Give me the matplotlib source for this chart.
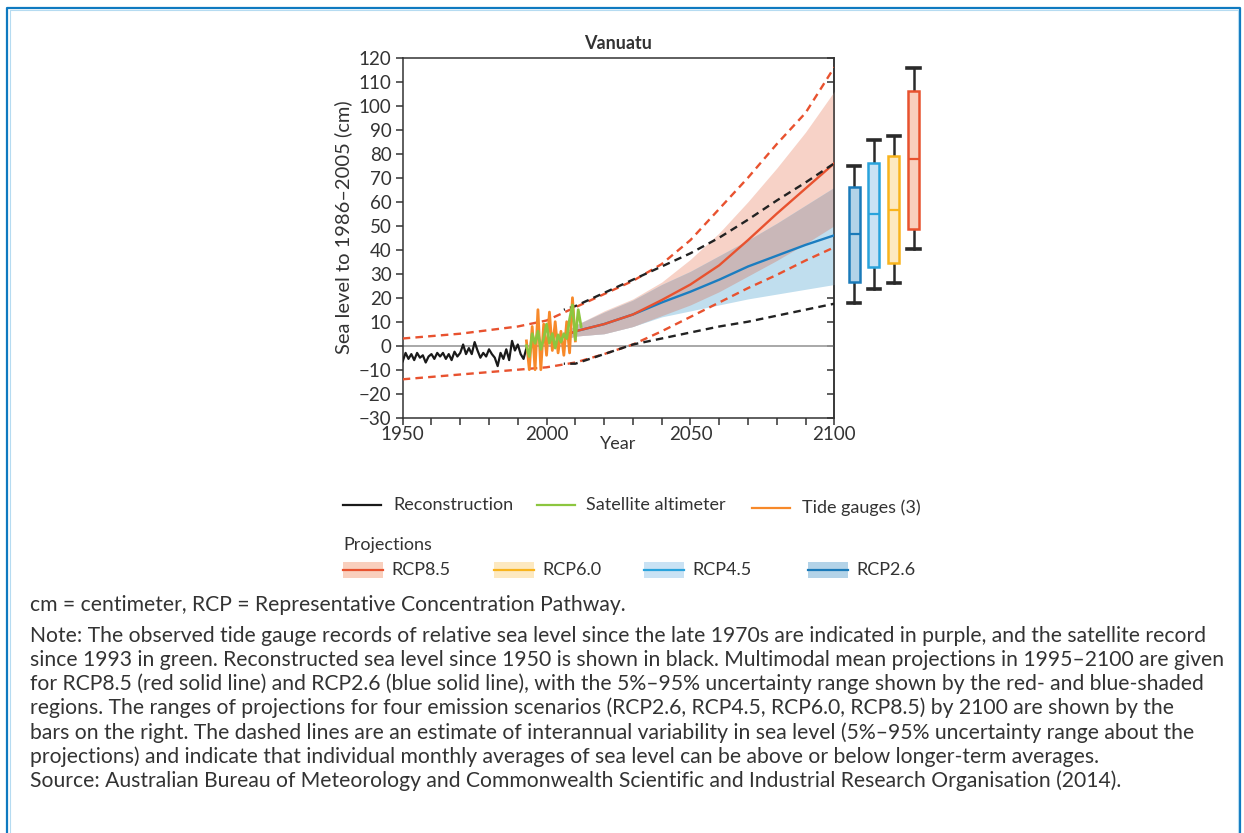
import numpy as np
import matplotlib
matplotlib.use('Agg')
import matplotlib.pyplot as plt
from matplotlib.lines import Line2D
from matplotlib.patches import Rectangle

plt.rcParams['font.family'] = ['Lato', 'DejaVu Sans']

# observed records
recon_years = list(range(1950, 1994))
recon = [-6.5, -3.0, -5.5, -3.5, -6.0, -3.0, -5.0, -4.0, -7.0, -4.5,
         -3.5, -5.5, -3.0, -4.5, -3.0, -5.5, -3.5, -6.0, -2.5, -4.5,
         -3.0, 0.5, -3.5, -1.0, -3.5, 1.5, -2.0, -5.0, -3.0, -4.5,
         -1.5, -3.5, -5.0, -8.5, -3.0, -5.5, -1.5, -6.0, 2.0, -2.0,
         0.5, -3.5, -5.5, -1.0]
tide_years = list(range(1993, 2011))
tide = [2, -10, 8, -10, 15, -10, 9, -4, 14, -2, 10, -3, 6, -4, 10, -3, 20, 2]
sat_years = list(range(1993, 2013))
sat = [0, -4.5, 5, 1, 6, -1.5, 3, 9, 1, 5, -1, 4.5, 1.5, 5, 3, 11, 17, 2.5, 15, 8]

# projections (multimodel mean and 5-95% range)
proj_years = [2006, 2010, 2020, 2030, 2040, 2050, 2060, 2070, 2080, 2090, 2100]
rcp85_mid = [4, 6, 9, 13, 19, 25.5, 33.5, 44, 55, 65.5, 76]
rcp85_lo = [2.5, 4, 5, 8, 12.5, 17, 22.5, 29, 35.5, 42.5, 50]
rcp85_hi = [5.5, 8.5, 14.5, 19.5, 26.5, 36, 47, 60, 74, 89, 106]
rcp26_mid = [4, 6, 9, 13, 18, 22.5, 27.5, 33, 37.5, 42, 46]
rcp26_lo = [2.5, 4, 5, 8, 12, 14.5, 17, 19.5, 21.5, 23.5, 25.5]
rcp26_hi = [5.5, 8.5, 14, 19, 25.5, 31, 37.5, 44, 51, 58.5, 66]

# interannual variability envelopes
var85_years = [1950, 1970, 1990, 2000, 2010, 2020, 2030, 2040, 2050, 2060, 2070, 2080, 2090, 2100]
var85_hi = [3, 5, 8, 10.5, 16, 21.5, 27, 34, 44, 57, 70, 84, 97, 116]
var85_lo = [-14, -12, -10, -9, -7, -3.5, 0.5, 6, 12, 18, 24, 29.5, 35.5, 41]
var26_years = [2006, 2010, 2020, 2030, 2040, 2050, 2060, 2070, 2080, 2090, 2100]
var26_hi = [15, 16.5, 22, 27.5, 33, 38.5, 45, 52.5, 60.5, 68, 76]
var26_lo = [-7.5, -7.5, -3.5, 0.5, 3, 5.5, 8, 10, 12.5, 15, 17.5]

# 2100 ranges, order RCP2.6, RCP4.5, RCP6.0, RCP8.5
box_names = ['RCP2.6', 'RCP4.5', 'RCP6.0', 'RCP8.5']
box_lo = [17.7, 23.8, 26.0, 40.2]
box_q1 = [26.4, 32.8, 34.6, 48.8]
box_med = [46.4, 54.7, 56.5, 77.8]
box_q3 = [66.3, 76.3, 78.9, 106.3]
box_hi = [75.0, 85.7, 87.4, 115.6]
box_face = ['#b3d3e8', '#c9e2f4', '#fde9c0', '#f9cfbd']
box_edge = ['#1a7ab9', '#29a3dc', '#f9b41d', '#e8522f']

RED = '#e8522f'
BLUE = '#1b7dc0'
TXT = '#333333'

W, H = 1244, 833
fig = plt.figure(figsize=(W / 100, H / 100), dpi=100)


def fx(x):
    return x / W


def fy(y):
    return 1 - y / H


ax = fig.add_axes([fx(402.7), fy(417.7), (834.3 - 402.7) / W, 360 / H])

p85_lo, p85_hi = np.array(rcp85_lo), np.array(rcp85_hi)
p26_lo, p26_hi = np.array(rcp26_lo), np.array(rcp26_hi)
ax.fill_between(proj_years, p85_lo, p85_hi, color='#f7d2c7', lw=0, zorder=1)
ax.fill_between(proj_years, p26_lo, p26_hi, color='#c0deee', lw=0, zorder=1)
ov_lo = np.maximum(p85_lo, p26_lo)
ov_hi = np.minimum(p85_hi, p26_hi)
ax.fill_between(proj_years, ov_lo, ov_hi, color='#c9b7b8', lw=0, zorder=1.5)

ax.axhline(0, color='#9a9a9a', lw=1.2, zorder=2)

ax.plot(proj_years, rcp26_mid, color=BLUE, lw=1.7, zorder=3)
ax.plot(proj_years, rcp85_mid, color=RED, lw=1.7, zorder=3.1)

dash = (0, (3.2, 2.2))
ax.plot(var85_years, var85_hi, color=RED, lw=1.7, ls=dash, zorder=4)
ax.plot(var85_years, var85_lo, color=RED, lw=1.7, ls=dash, zorder=4)
ax.plot(var26_years, var26_hi, color='#222222', lw=1.7, ls=(2.7, (3.2, 2.2)), zorder=4.1)
ax.plot(var26_years, var26_lo, color='#222222', lw=1.7, ls=(2.7, (3.2, 2.2)), zorder=4.1)

ax.plot(recon_years, recon, color='#1a1a1a', lw=1.6, zorder=5)
ax.plot(tide_years, tide, color='#f7892a', lw=2.0, zorder=5)
ax.plot(sat_years, sat, color='#8cc63f', lw=2.0, zorder=6)

ax.set_xlim(1950, 2100)
ax.set_ylim(-30, 120)
ax.set_xticks([1950, 2000, 2050, 2100])
ax.set_xticks(range(1950, 2101, 10), minor=True)
ax.set_yticks(range(-30, 121, 10))
ax.set_yticklabels([str(v).replace('-', '\u2212') for v in range(-30, 121, 10)])
ax.tick_params(axis='both', which='both', direction='out', length=5, width=1.1,
               color=TXT, labelcolor=TXT, labelsize=13.5, pad=1)
ax.tick_params(axis='y', pad=3)
for s in ax.spines.values():
    s.set_color(TXT)
    s.set_linewidth(1.1)
rax = ax.secondary_yaxis('right')
rax.set_yticks(range(-30, 121, 10))
rax.tick_params(direction='in', length=5, width=1.1, color=TXT, labelright=False)
rax.spines['right'].set_color(TXT)
rax.spines['right'].set_linewidth(1.1)

ax.set_xlabel('Year', fontsize=13, color=TXT, labelpad=-5)
ax.set_ylabel('Sea level to 1986\u20132005 (cm)', fontsize=14.5, color=TXT, labelpad=3)
ax.yaxis.set_label_coords(-0.116, 0.53)
ax.set_title('Vanuatu', fontsize=13, fontweight='bold', color=TXT, pad=6)

# bars on the right
bx = fig.add_axes([fx(834.3), fy(417.7), 99 / W, 360 / H])
bx.set_xlim(0, 5)
bx.set_ylim(-30, 120)
bx.axis('off')
stats = []
for i in range(4):
    stats.append({'med': box_med[i], 'q1': box_q1[i], 'q3': box_q3[i],
                  'whislo': box_lo[i], 'whishi': box_hi[i], 'fliers': []})
art = bx.bxp(stats, positions=[1, 2, 3, 4], widths=0.56, capwidths=0.62,
             patch_artist=True, showfliers=False)
for i in range(4):
    art['boxes'][i].set(facecolor=box_face[i], edgecolor=box_edge[i], linewidth=1.8, zorder=3)
    art['medians'][i].set(color=box_edge[i], linewidth=1.6, zorder=4)
for w in art['whiskers']:
    w.set(color='#2a2a2a', linewidth=1.8, zorder=2)
for c in art['caps']:
    c.set(color='#2a2a2a', linewidth=2.6, zorder=2)

# legend, drawn in figure pixels
row1 = 505
legend_lines = [(343, 381, '#1a1a1a', 'Reconstruction', 393, row1),
                (537, 575, '#8cc63f', 'Satellite altimeter', 586, row1),
                (752, 790, '#f7892a', 'Tide gauges (3)', 802, row1 + 3)]
for x0, x1, col, lab, tx, yy in legend_lines:
    fig.add_artist(Line2D([fx(x0), fx(x1)], [fy(yy), fy(yy)], color=col, lw=1.6,
                          transform=fig.transFigure))
    fig.text(fx(tx), fy(yy), lab, fontsize=13, color=TXT, va='center', ha='left')

fig.text(fx(343), fy(545), 'Projections', fontsize=13, color=TXT, va='center', ha='left')

row3 = 570
patch_x = [343, 494, 644, 808]
order = [3, 2, 1, 0]
for px, k in zip(patch_x, order):
    fig.add_artist(Rectangle((fx(px), fy(row3 + 8)), 40 / W, 16 / H, facecolor=box_face[k],
                             edgecolor='none', transform=fig.transFigure))
    fig.add_artist(Line2D([fx(px), fx(px + 40)], [fy(row3), fy(row3)], color=box_edge[k],
                          lw=1.6, transform=fig.transFigure))
    fig.text(fx(px + 48), fy(row3), box_names[k], fontsize=13, color=TXT, va='center', ha='left')

caption = [
    'cm = centimeter, RCP = Representative Concentration Pathway.',
    'Note: The observed tide gauge records of relative sea level since the late 1970s are indicated in purple, and the satellite record',
    'since 1993 in green. Reconstructed sea level since 1950 is shown in black. Multimodal mean projections in 1995\u20132100 are given',
    'for RCP8.5 (red solid line) and RCP2.6 (blue solid line), with the 5%\u201395% uncertainty range shown by the red- and blue-shaded',
    'regions. The ranges of projections for four emission scenarios (RCP2.6, RCP4.5, RCP6.0, RCP8.5) by 2100 are shown by the',
    'bars on the right. The dashed lines are an estimate of interannual variability in sea level (5%\u201395% uncertainty range about the',
    'projections) and indicate that individual monthly averages of sea level can be above or below longer-term averages.',
    'Source: Australian Bureau of Meteorology and Commonwealth Scientific and Industrial Research Organisation (2014).',
]
cap_y = [605, 636, 660, 684, 708, 733, 757, 781]
for line, yy in zip(caption, cap_y):
    fig.text(fx(30), fy(yy), line, fontsize=15.2, color=TXT, va='center', ha='left')

# frame
frame = '#0f7ac0'
fig.add_artist(Line2D([fx(7.5), fx(7.5), fx(1240), fx(1240)], [0, fy(8), fy(8), 0],
                      color=frame, lw=1.6, transform=fig.transFigure))
fig.add_artist(Line2D([fx(9.5), fx(9.5), fx(1238), fx(1238)], [0, fy(10), fy(10), 0],
                      color='#b5dbf1', lw=0.8, transform=fig.transFigure))

fig.savefig('out.png', dpi=100)
